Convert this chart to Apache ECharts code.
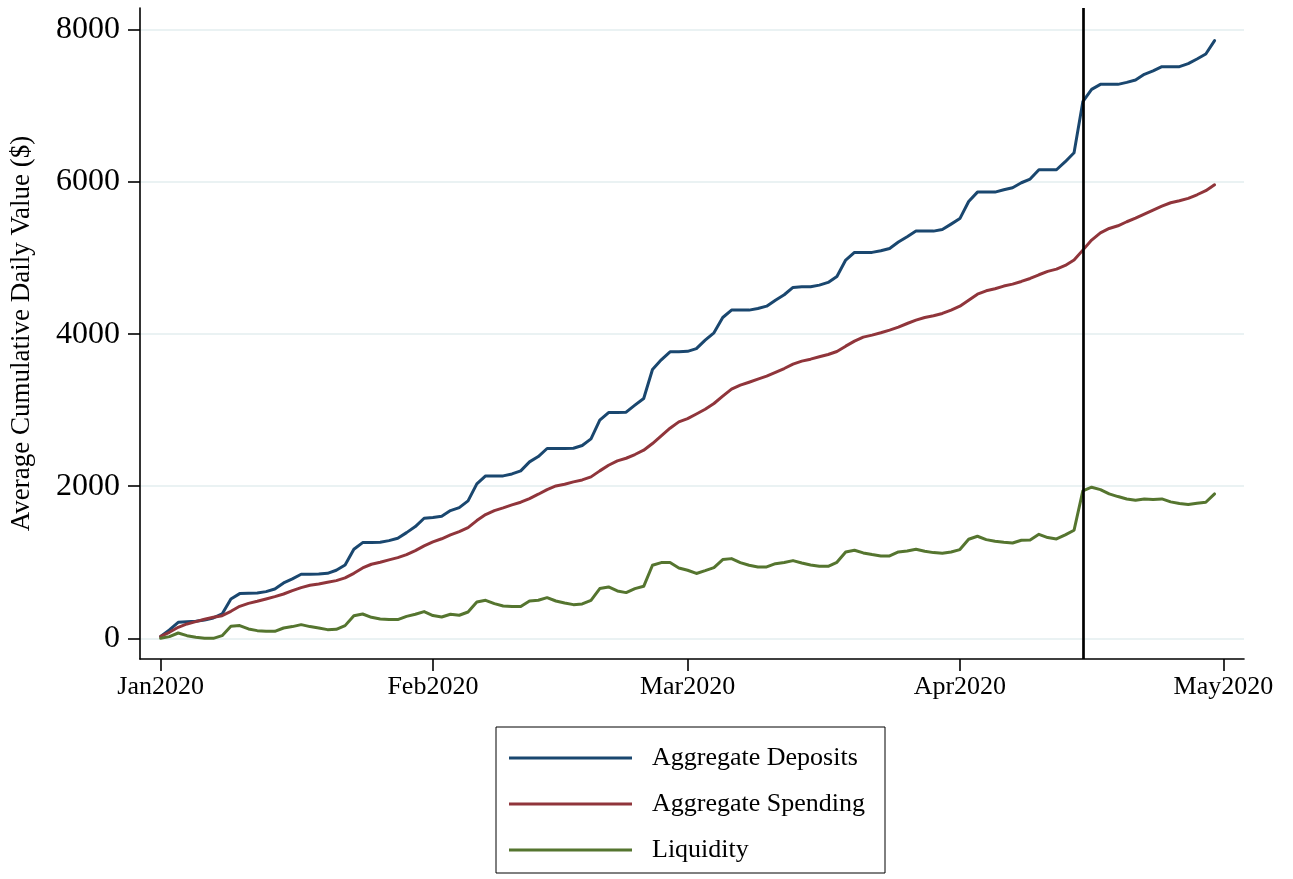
<!DOCTYPE html>
<html><head><meta charset="utf-8">
<script src="https://cdn.jsdelivr.net/npm/echarts@6/dist/echarts.min.js"></script>
<style>html,body{margin:0;padding:0;background:#fff}#chart{width:1293px;height:879px}</style>
</head><body><div id="chart"></div>
<script>
// ---- data ----
const startDate = [2020, 0, 1]; // first daily observation (Jan 1, 2020)
const seriesNames = ['Aggregate Deposits', 'Aggregate Spending', 'Liquidity'];
const deposits = [26,110,210,219,224,241,268,320,518,588,592,596,614,649,728,781,842,842,846,855,895,965,1171,1259,1259,1263,1285,1316,1390,1469,1579,
  1590,1605,1680,1719,1807,2031,2136,2136,2136,2162,2202,2320,2390,2496,2496,2496,2500,2535,2623,2868,2969,2969,2974,3066,3154,3535,3662,3768,3768,
  3774,3809,3921,4018,4219,4316,4316,4316,4338,4368,4447,4518,4614,4623,4623,4645,4680,4759,4974,5075,5075,5075,5097,5127,5211,5281,5355,5355,5355,5377,5447,
  5520,5745,5868,5868,5868,5899,5925,5991,6039,6162,6162,6162,6268,6386,7057,7219,7285,7285,7285,7311,7342,7417,7461,7518,7518,7518,7557,7618,7684,7860];
const spending = [26,79,145,189,219,250,276,298,355,421,460,487,518,548,583,627,667,697,715,737,759,794,855,925,974,1000,1031,1061,1101,1154,1215,
  1268,1309,1360,1404,1456,1548,1627,1680,1715,1754,1790,1838,1895,1956,2004,2026,2057,2083,2123,2202,2276,2333,2368,2417,2474,2561,2662,2763,2846,
  2890,2950,3013,3088,3184,3276,3329,3368,3408,3447,3496,3548,3605,3645,3671,3702,3732,3772,3842,3908,3961,3987,4018,4053,4092,4140,4184,4219,4241,4272,4316,
  4368,4447,4526,4570,4597,4632,4658,4693,4732,4781,4825,4855,4903,4974,5105,5237,5333,5390,5425,5478,5526,5579,5632,5684,5728,5754,5785,5833,5886,5965];
const liquidity = [0,22,70,35,13,0,0,35,158,167,123,101,92,92,136,154,180,154,136,114,118,167,298,320,276,254,246,246,289,316,351,
  300,281,316,303,346,478,500,456,425,417,417,491,500,535,491,465,443,452,500,654,675,623,601,654,684,961,996,996,925,
  895,853,890,930,1035,1048,996,961,939,939,982,996,1022,991,965,947,947,1000,1136,1158,1123,1101,1083,1083,1136,1149,1171,1145,1127,1118,1136,
  1167,1303,1342,1298,1276,1263,1254,1289,1294,1368,1325,1307,1360,1421,1939,1987,1956,1899,1864,1833,1816,1833,1825,1833,1794,1772,1759,1776,1789,1899];
const xTickDates = [[2020,0,1],[2020,1,1],[2020,2,1],[2020,3,1],[2020,4,1]];
const xTickLabels = ['Jan2020', 'Feb2020', 'Mar2020', 'Apr2020', 'May2020'];
const yTickValues = [0, 2000, 4000, 6000, 8000];
const eventDate = [2020, 3, 15]; // vertical reference line
const yTitle = 'Average Cumulative Daily Value ($)';

// ---- build ----
const DAY = 86400000;
const utc = (a) => Date.UTC(a[0], a[1], a[2]);
const dayIndex = (a) => Math.round((utc(a) - utc(startDate)) / DAY);
const toPairs = (arr) => arr.map((v, i) => [i, v]);
const xTicks = xTickDates.map(dayIndex);
const colors = ['#1a476f', '#90353b', '#55752f'];
const FONT = '"Liberation Serif", "Times New Roman", serif';

const chart = echarts.init(document.getElementById('chart'), null, {renderer: 'canvas'});
const mkSeries = (name, arr, color, extra) => Object.assign({
  name, type: 'line', data: toPairs(arr), symbol: 'none', showSymbol: false,
  lineStyle: {color, width: 3, cap: 'round', join: 'round'}, itemStyle: {color},
  emphasis: {disabled: true}, silent: true, animation: false, z: 3
}, extra || {});

chart.setOption({
  backgroundColor: '#ffffff',
  animation: false,
  grid: {left: 139, right: 49, top: 8, bottom: 220, containLabel: false},
  xAxis: {
    type: 'value',
    min: -2.35,
    max: 123.35,
    axisLine: {show: true, onZero: false, lineStyle: {color: '#000', width: 1.6}},
    axisTick: {show: true, length: 12, lineStyle: {color: '#000', width: 1.6}, customValues: xTicks},
    axisLabel: {
      customValues: xTicks, margin: 15, color: '#000', fontFamily: FONT, fontSize: 26,
      formatter: (v) => { const k = xTicks.indexOf(Math.round(v)); return k >= 0 ? xTickLabels[k] : ''; }
    },
    splitLine: {show: false}
  },
  yAxis: {
    type: 'value',
    min: -272, max: 8289,
    name: yTitle, nameLocation: 'middle', nameGap: 105, nameRotate: 90,
    nameTextStyle: {color: '#000', fontFamily: FONT, fontSize: 27},
    axisLine: {show: true, onZero: false, lineStyle: {color: '#000', width: 1.6}},
    axisTick: {show: true, length: 12, lineStyle: {color: '#000', width: 1.6}, customValues: yTickValues},
    axisLabel: {customValues: yTickValues, margin: 20, color: '#000', fontFamily: FONT, fontSize: 32,
      formatter: (v) => String(Math.round(v))},
    splitLine: {show: true, lineStyle: {color: '#eaf2f3', width: 2}}
  },
  legend: {
    show: true, orient: 'vertical', left: 496, top: 727,
    padding: [18, 20, 10, 13], itemGap: 20,
    itemWidth: 123, itemHeight: 3, icon: 'rect',
    borderColor: '#000', borderWidth: 1, backgroundColor: '#fff',
    textStyle: {color: '#000', fontFamily: FONT, fontSize: 26, lineHeight: 26, padding: [0, 0, 0, 15]},
    data: seriesNames.map((n, i) => ({name: n, itemStyle: {color: colors[i]}})),
    selectedMode: false
  },
  series: [
    mkSeries(seriesNames[0], deposits, colors[0], {
      markLine: {
        silent: true, symbol: ['none', 'none'], label: {show: false},
        lineStyle: {color: '#000', width: 2.7, type: 'solid'},
        emphasis: {disabled: true},
        data: [{xAxis: dayIndex(eventDate)}]
      }
    }),
    mkSeries(seriesNames[1], spending, colors[1]),
    mkSeries(seriesNames[2], liquidity, colors[2])
  ]
});
</script></body></html>
